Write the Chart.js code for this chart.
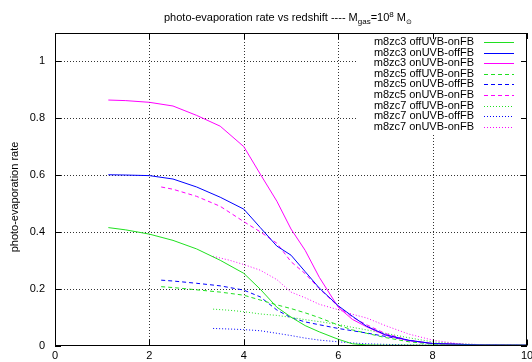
<!DOCTYPE html>
<html>
<head>
<meta charset="utf-8">
<script src="https://cdn.jsdelivr.net/npm/chart.js@4.4.1/dist/chart.umd.min.js"></script>
<style>
  body { margin: 0; background: #fff; }
</style>
</head>
<body>
<canvas id="chart" width="532" height="362"></canvas>
<script>
// redshift samples for each run group
var zc3X = [1.13, 1.5, 2.0, 2.5, 3.0, 3.5, 4.0, 4.35, 4.7, 5.0, 5.3, 5.6, 6.0, 6.3, 6.6, 7.0, 7.5, 8.0, 9.0, 10.0];
var zc5X = [2.25, 2.5, 3.0, 3.5, 4.0, 4.35, 4.7, 5.0, 5.3, 5.6, 6.0, 6.3, 6.6, 7.0, 7.5, 8.0, 9.0, 10.0];
var zc7X = [3.35, 3.7, 4.0, 4.35, 4.7, 5.0, 5.3, 5.6, 6.0, 6.3, 6.6, 7.0, 7.5, 8.0, 8.5, 9.0, 10.0];

// photo-evaporation rates
var zc3OffOn = [0.415, 0.407, 0.392, 0.37, 0.34, 0.30, 0.254, 0.198, 0.135, 0.10, 0.07, 0.048, 0.022, 0.006, 0.002, 0.001, 0.001, 0.001, 0.001, 0.001];
var zc3OnOff = [0.601, 0.600, 0.598, 0.586, 0.558, 0.522, 0.48, 0.415, 0.35, 0.318, 0.26, 0.202, 0.14, 0.103, 0.068, 0.038, 0.018, 0.007, 0.002, 0.001];
var zc3OnOn = [0.864, 0.862, 0.856, 0.843, 0.81, 0.772, 0.70, 0.603, 0.508, 0.41, 0.335, 0.24, 0.135, 0.092, 0.066, 0.036, 0.017, 0.007, 0.002, 0.001];
var zc5OffOn = [0.207, 0.204, 0.196, 0.188, 0.177, 0.16, 0.143, 0.13, 0.115, 0.098, 0.072, 0.055, 0.043, 0.028, 0.013, 0.005, 0.002, 0.001];
var zc5OnOff = [0.230, 0.227, 0.219, 0.21, 0.195, 0.171, 0.125, 0.098, 0.083, 0.073, 0.06, 0.052, 0.044, 0.032, 0.018, 0.007, 0.002, 0.001];
var zc5OnOn = [0.558, 0.550, 0.525, 0.49, 0.436, 0.40, 0.36, 0.295, 0.253, 0.20, 0.138, 0.10, 0.073, 0.042, 0.018, 0.006, 0.002, 0.001];
var zc7OffOn = [0.128, 0.124, 0.119, 0.111, 0.106, 0.099, 0.091, 0.084, 0.074, 0.064, 0.055, 0.043, 0.027, 0.013, 0.006, 0.003, 0.001];
var zc7OnOff = [0.06, 0.058, 0.056, 0.052, 0.043, 0.035, 0.026, 0.019, 0.013, 0.009, 0.006, 0.004, 0.002, 0.001, 0.001, 0.001, 0.001];
var zc7OnOn = [0.314, 0.30, 0.285, 0.265, 0.232, 0.188, 0.168, 0.145, 0.126, 0.11, 0.097, 0.07, 0.04, 0.019, 0.007, 0.003, 0.001];

var xTicks = [0, 2, 4, 6, 8, 10];
var yTicks = [0, 0.2, 0.4, 0.6, 0.8, 1];

var GREEN = "#20e020", BLUE = "#0000ff", MAGENTA = "#ff00ff";
var SOLID = [], DASH = [4, 3], DOT = [1, 2];

function pts(xs, ys) {
  return xs.map(function (x, i) { return { x: x, y: ys[i] }; });
}

var series = [
  { label: "m8zc3 offUVB-onFB", x: zc3X, y: zc3OffOn, color: GREEN, dash: SOLID },
  { label: "m8zc3 onUVB-offFB", x: zc3X, y: zc3OnOff, color: BLUE, dash: SOLID },
  { label: "m8zc3 onUVB-onFB", x: zc3X, y: zc3OnOn, color: MAGENTA, dash: SOLID },
  { label: "m8zc5 offUVB-onFB", x: zc5X, y: zc5OffOn, color: GREEN, dash: DASH },
  { label: "m8zc5 onUVB-offFB", x: zc5X, y: zc5OnOff, color: BLUE, dash: DASH },
  { label: "m8zc5 onUVB-onFB", x: zc5X, y: zc5OnOn, color: MAGENTA, dash: DASH },
  { label: "m8zc7 offUVB-onFB", x: zc7X, y: zc7OffOn, color: GREEN, dash: DOT },
  { label: "m8zc7 onUVB-offFB", x: zc7X, y: zc7OnOff, color: BLUE, dash: DOT },
  { label: "m8zc7 onUVB-onFB", x: zc7X, y: zc7OnOn, color: MAGENTA, dash: DOT }
];

var FAMILY = "'Liberation Sans', Arial, sans-serif";
var FONT = "11px " + FAMILY;

// dotted grid drawn under the curves
var grid = {
  id: "grid",
  beforeDatasetsDraw: function (chart) {
    var ctx = chart.ctx, a = chart.chartArea;
    var xs = chart.scales.x, ys = chart.scales.y;
    ctx.save();
    ctx.strokeStyle = "#333";
    ctx.lineWidth = 1;
    ctx.setLineDash([1, 2]);
    ctx.beginPath();
    xTicks.slice(1, -1).forEach(function (v) {
      var px = Math.round(xs.getPixelForValue(v)) + 0.5;
      ctx.moveTo(px, a.top); ctx.lineTo(px, a.bottom);
    });
    yTicks.slice(1).forEach(function (v) {
      var py = Math.round(ys.getPixelForValue(v)) + 0.5;
      ctx.moveTo(a.left, py); ctx.lineTo(a.right, py);
    });
    ctx.stroke();
    ctx.restore();
  }
};

// frame, ticks, legend, title and y label (gnuplot look)
var decor = {
  id: "decor",
  afterDraw: function (chart) {
    var ctx = chart.ctx, a = chart.chartArea;
    var xs = chart.scales.x, ys = chart.scales.y;
    ctx.save();

    // legend box
    ctx.fillStyle = "#fff";
    ctx.fillRect(357, a.top + 1, 164, 99);

    // frame
    ctx.strokeStyle = "#000";
    ctx.lineWidth = 1;
    ctx.setLineDash([]);
    ctx.strokeRect(Math.round(a.left) + 0.5, Math.round(a.top) + 0.5,
      Math.round(a.right - a.left) - 1, Math.round(a.bottom - a.top) - 1);

    // inward tick marks on all sides
    ctx.beginPath();
    xTicks.forEach(function (v) {
      var px = Math.round(xs.getPixelForValue(v)) + 0.5;
      ctx.moveTo(px, a.bottom); ctx.lineTo(px, a.bottom - 6);
      ctx.moveTo(px, a.top); ctx.lineTo(px, a.top + 6);
    });
    yTicks.forEach(function (v) {
      var py = Math.round(ys.getPixelForValue(v)) + 0.5;
      ctx.moveTo(a.left, py); ctx.lineTo(a.left + 6, py);
      ctx.moveTo(a.right, py); ctx.lineTo(a.right - 6, py);
    });
    ctx.stroke();

    // legend
    ctx.font = FONT;
    ctx.textAlign = "right";
    ctx.textBaseline = "middle";
    series.forEach(function (s, i) {
      var y = 42 + i * 10.6;
      ctx.fillStyle = "#000";
      ctx.fillText(s.label, 474, y);
      ctx.strokeStyle = s.color;
      ctx.setLineDash(s.dash);
      ctx.beginPath();
      ctx.moveTo(484, Math.round(y) + 0.5);
      ctx.lineTo(514, Math.round(y) + 0.5);
      ctx.stroke();
    });
    ctx.setLineDash([]);

    // title with sub/superscripts
    var parts = [
      { t: "photo-evaporation rate vs redshift ---- M", s: 11, dy: 0 },
      { t: "gas", s: 8, dy: 3 },
      { t: "=10", s: 11, dy: 0 },
      { t: "8", s: 8, dy: -4 },
      { t: " M", s: 11, dy: 0 },
      { t: "\u2299", s: 7, dy: 3 }
    ];
    var total = 0;
    parts.forEach(function (p) {
      ctx.font = p.s + "px " + FAMILY;
      p.w = ctx.measureText(p.t).width;
      total += p.w;
    });
    var x = 288 - total / 2;
    ctx.textAlign = "left";
    ctx.textBaseline = "alphabetic";
    ctx.fillStyle = "#000";
    parts.forEach(function (p) {
      ctx.font = p.s + "px " + FAMILY;
      ctx.fillText(p.t, x, 21 + p.dy);
      x += p.w;
    });

    // y axis label
    ctx.font = FONT;
    ctx.translate(15, 197);
    ctx.rotate(-Math.PI / 2);
    ctx.textAlign = "center";
    ctx.textBaseline = "middle";
    ctx.fillText("photo-evaporation rate", 0, 0);

    ctx.restore();
  }
};

var chart = new Chart(document.getElementById("chart"), {
  type: "line",
  data: {
    datasets: series.map(function (s) {
      return {
        label: s.label,
        data: pts(s.x, s.y),
        borderColor: s.color,
        borderWidth: 1,
        borderDash: s.dash,
        pointRadius: 0,
        fill: false,
        tension: 0
      };
    })
  },
  options: {
    responsive: false,
    animation: false,
    layout: { padding: { top: 33, right: 5, left: 0, bottom: 0 } },
    plugins: {
      legend: { display: false },
      title: { display: false },
      tooltip: { enabled: false }
    },
    scales: {
      x: {
        type: "linear",
        min: 0,
        max: 10,
        afterBuildTicks: function (scale) {
          scale.ticks = xTicks.map(function (v) { return { value: v }; });
        },
        afterFit: function (scale) {
          scale.height = 16.5;
          scale.paddingLeft = 0;
          scale.paddingRight = 0;
        },
        ticks: {
          color: "#000", font: { family: FAMILY, size: 11 }, padding: 4, maxRotation: 0,
          callback: function (v) { return String(v); }
        },
        grid: { display: false, drawTicks: false, tickLength: 0 },
        border: { display: false }
      },
      y: {
        min: 0,
        max: 1.1,
        afterBuildTicks: function (scale) {
          scale.ticks = yTicks.map(function (v) { return { value: v }; });
        },
        afterFit: function (scale) {
          scale.width = 55;
          scale.paddingTop = 0;
          scale.paddingBottom = 0;
        },
        ticks: {
          color: "#000", font: { family: FAMILY, size: 11 }, padding: 10,
          callback: function (v) { return String(v); }
        },
        grid: { display: false, drawTicks: false, tickLength: 0 },
        border: { display: false }
      }
    }
  },
  plugins: [grid, decor]
});
</script>
</body>
</html>
